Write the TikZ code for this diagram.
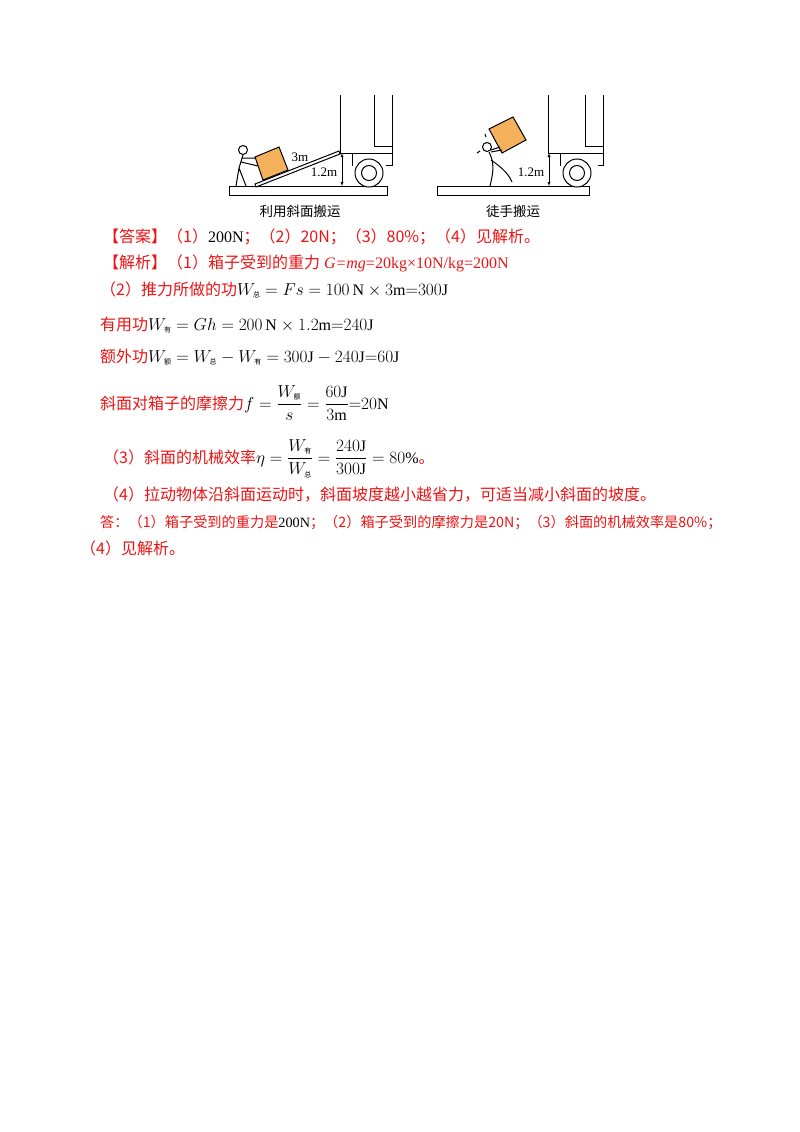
\documentclass[tikz,border=0pt]{standalone}
\usepackage{amsmath}
\usepackage{fontspec}
\setmainfont{Liberation Serif}
\newfontfamily\cjk{Noto Sans CJK SC}
\usepackage{xcolor}
\definecolor{ans}{RGB}{235,20,20}
\definecolor{boxc}{RGB}{245,178,92}
\begin{document}
\begin{tikzpicture}[x=1pt,y=-1pt,
 body/.style={anchor=base west,inner sep=0pt,font=\fontsize{16}{16}\selectfont},
 figcap/.style={inner sep=0pt,font=\cjk\fontsize{13.5}{13.5}\selectfont},
 lab/.style={inner sep=0pt,font=\fontsize{13}{13}\selectfont},
 dim/.style={<->,>=latex,thin},
 pl/.style={line width=1pt}]
\useasboundingbox[fill=white] (0,0) rectangle (800,1132);
% ---------- left figure
\draw[pl,fill=white] (229,186) rectangle (387,195);
\draw[pl] (340,95) -- (340,153) -- (392,153) (374,95) -- (374,146) -- (392,146) (392,95) -- (392,165) -- (386,165);
\draw[pl] (352,153) -- (352,166);
\draw[pl,fill=white] (369,173) circle (14);
\draw[pl,fill=white] (369,173) circle (7.5);
\draw[pl,fill=white] (255,184) -- (339,151) -- (340,154) -- (256,187) -- cycle;
\draw[pl,fill=boxc] (255,157) -- (279,147) -- (288,170) -- (263,180) -- cycle;
\draw[dim] (342,153) -- (342,186);
\node[lab] (l3m) at (300,157) {3m};
\node[lab] (l12a) at (324,172) {1.2m};
\draw[pl] (243,150) circle (4.5);
\draw[pl] (243,155) -- (239,168) -- (236,186) (239,168) -- (246,186) (242,158) -- (256,158) (241,162) -- (258,166);
\node[figcap] (c1) at (300,211) {利用斜面搬运};
% ---------- right figure
\draw[pl,fill=white] (437,186) rectangle (589,195);
\draw[pl] (548,95) -- (548,153) -- (603,153) (585,95) -- (585,146) -- (603,146) (603,95) -- (603,165) -- (598,165);
\draw[pl] (560,153) -- (560,166);
\draw[pl,fill=white] (577,173) circle (14);
\draw[pl,fill=white] (577,173) circle (7.5);
\draw[dim] (549,153) -- (549,186);
\node[lab] (l12b) at (531,172) {1.2m};
\draw[pl,fill=boxc] (489,129) -- (513,117) -- (526,140) -- (502,153) -- cycle;
\draw[pl] (487,147) circle (4.5);
\draw[pl] (491,150) -- (500,147) (491,152) -- (502,150);
\draw[pl] (489,152) .. controls (494,162) and (494,170) .. (490,186);
\draw[pl] (491,160) .. controls (498,165) and (508,172) .. (512,182);
\draw[pl] (485,134) -- (486,137) (480,151) -- (477,153);
\node[figcap] (c2) at (513,211) {徒手搬运};
% ---------- text
\node[body,text=ans] (t1) at (103,242) {\cjk【答案】（1）\color{black}\rmfamily 200N\color{ans}\cjk；（2）20N；（3）80\%；（4）见解析。};
\node[body,text=ans] (t2) at (103,268) {\cjk【解析】（1）箱子受到的重力\rmfamily\itshape{} G=mg\upshape=20kg×10N/kg=200N};
\node[body] (t3) at (100,295) {\cjk\color{ans}（2）推力所做的功\color{black}$W_{\mbox{\cjk\scriptsize 总}}=Fs=100\,\mathrm{N}\times3\mathrm{m}{=}300\mathrm{J}$};
\node[body] (t4) at (100,330) {\cjk\color{ans}有用功\color{black}$W_{\mbox{\cjk\scriptsize 有}}=Gh=200\,\mathrm{N}\times1.2\mathrm{m}{=}240\mathrm{J}$};
\node[body] (t5) at (100,362) {\cjk\color{ans}额外功\color{black}$W_{\mbox{\cjk\scriptsize 额}}=W_{\mbox{\cjk\scriptsize 总}}-W_{\mbox{\cjk\scriptsize 有}}=300\mathrm{J}-240\mathrm{J}{=}60\mathrm{J}$};
\node[body] (t6) at (100,409) {\cjk\color{ans}斜面对箱子的摩擦力\color{black}$f=\dfrac{W_{\mbox{\cjk\scriptsize 额}}}{s}=\dfrac{60\mathrm{J}}{3\mathrm{m}}{=}20\mathrm{N}$};
\node[body] (t7) at (103,463) {\cjk\color{ans}（3）斜面的机械效率\color{black}$\eta=\dfrac{W_{\mbox{\cjk\scriptsize 有}}}{W_{\mbox{\cjk\scriptsize 总}}}=\dfrac{240\mathrm{J}}{300\mathrm{J}}=80\%$\color{ans}。};
\node[body,text=ans] (t8) at (103,500) {\cjk（4）拉动物体沿斜面运动时，斜面坡度越小越省力，可适当减小斜面的坡度。};
\node[body,text=ans,font=\fontsize{14.2}{14.2}\selectfont] (t9) at (100,527) {\cjk 答：（1）箱子受到的重力是\color{black}\rmfamily 200N\color{ans}\cjk；（2）箱子受到的摩擦力是20N；（3）斜面的机械效率是80\%；};
\node[body,text=ans] (t10) at (80,554) {\cjk（4）见解析。};
\end{tikzpicture}
\end{document}
